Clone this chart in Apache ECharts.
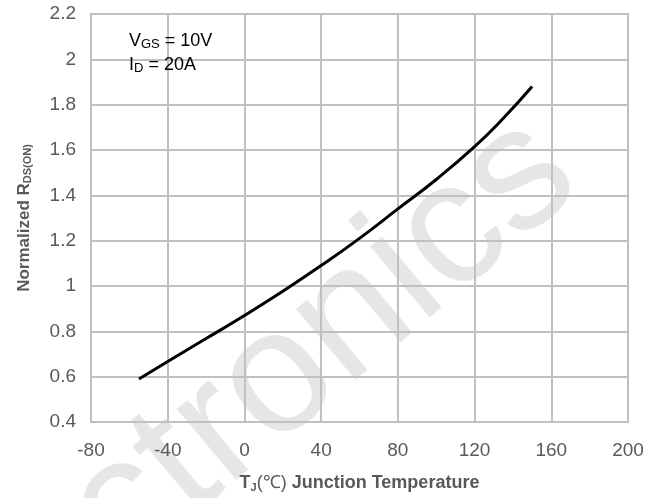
<!DOCTYPE html>
<html>
<head>
<meta charset="utf-8">
<script src="https://cdn.jsdelivr.net/npm/echarts@6/dist/echarts.min.js"></script>
<style>html,body{margin:0;padding:0;background:#fff}#c{width:664px;height:498px}</style>
</head>
<body>
<div id="c"></div>
<script>
var temps = [-55, -40, -20, 0, 20, 40, 60, 80, 100, 120, 135, 150];
var rds = [0.59, 0.667, 0.768, 0.87, 0.977, 1.09, 1.21, 1.34, 1.47, 1.615, 1.74, 1.88];
var xTicks = [-80, -40, 0, 40, 80, 120, 160, 200];
var yTicks = [0.4, 0.6, 0.8, 1, 1.2, 1.4, 1.6, 1.8, 2, 2.2];

var chart = echarts.init(document.getElementById('c'));
var FONT = 'Liberation Sans';
var grey = '#c0c0c0';
function rich(size, sub) {
  return {
    b: {fontFamily: FONT, fontSize: size, fontWeight: 'bold', color: '#595959'},
    c: {fontFamily: FONT, fontSize: size, color: '#595959'},
    s: {fontFamily: FONT, fontSize: sub, fontWeight: 'bold', color: '#595959', padding: [Math.round(size*0.42),0,0,0]}
  };
}
chart.setOption({
  backgroundColor: '#fff',
  animation: false,
  grid: {left: 91, right: 36, top: 14, bottom: 76, show: true, borderColor: grey, borderWidth: 2, outerBoundsMode: 'none', containLabel: false},
  xAxis: {
    type: 'value', min: -80, max: 200, interval: 40,
    axisLine: {show: true, lineStyle: {color: grey, width: 2}},
    axisTick: {show: false},
    splitLine: {show: true, lineStyle: {color: grey, width: 2}},
    axisLabel: {color: '#595959', fontFamily: FONT, fontSize: 19, margin: 19,
      formatter: function(v){ return xTicks.indexOf(v) >= 0 ? String(v) : ''; }},
    name: '{b|T}{s|J}{c|(℃)}{b| Junction Temperature}',
    nameLocation: 'middle', nameGap: 52,
    nameTextStyle: {rich: rich(18, 11)}
  },
  yAxis: {
    type: 'value', min: 0.4, max: 2.2, interval: 0.2,
    axisLine: {show: true, lineStyle: {color: grey, width: 2}},
    axisTick: {show: false},
    splitLine: {show: true, lineStyle: {color: grey, width: 2}},
    axisLabel: {color: '#595959', fontFamily: FONT, fontSize: 19, margin: 15,
      formatter: function(v){ var r = Math.round(v*10)/10; return yTicks.indexOf(r) >= 0 ? String(r) : ''; }},
    name: '{b|Normalized R}{s|DS(ON)}',
    nameLocation: 'middle', nameGap: 58, nameRotate: 90,
    nameTextStyle: {rich: rich(17, 11)}
  },
  graphic: [
    {type: 'text', x: 148, y: 605, z: -10, rotation: 40 * Math.PI / 180,
      style: {text: 'ctronics', x: 0, y: 0, verticalAlign: 'bottom', align: 'left',
        font: '175px "Liberation Sans"', fill: '#e6e6e6'}},
    {type: 'text', left: 129, top: 31, z: 10,
      style: {text: '{n|V}{s|GS}{n| = 10V}\n{n|I}{s|D}{n| = 20A}',
        rich: {
          n: {fontFamily: FONT, fontSize: 18, fill: '#000', lineHeight: 24},
          s: {fontFamily: FONT, fontSize: 13, fill: '#000', lineHeight: 24, padding: [7,0,0,0]}
        }}}
  ],
  series: [{
    type: 'line', smooth: true, symbol: 'none',
    lineStyle: {color: '#000', width: 3},
    data: temps.map(function(t, i){ return [t, rds[i]]; }),
    z: 5
  }]
});
</script>
</body>
</html>
